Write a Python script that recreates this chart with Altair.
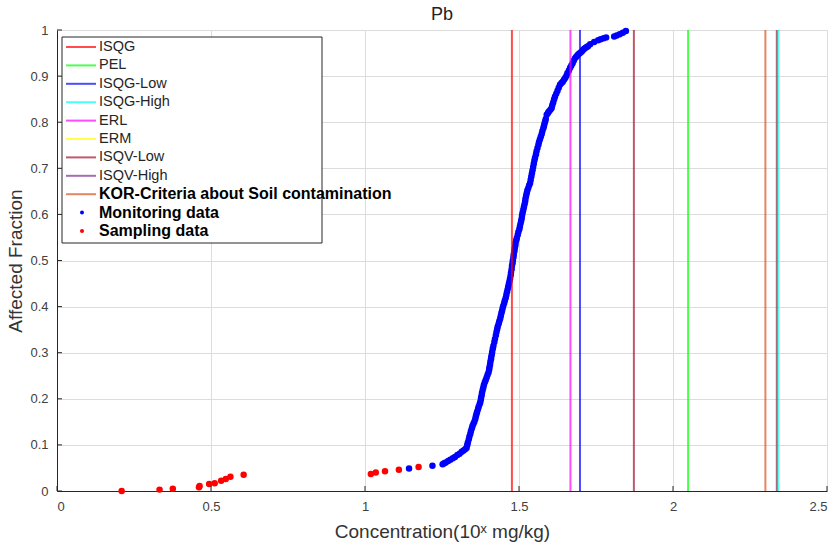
import altair as alt
import pandas as pd

# Axis ticks: concentration is log10(mg/kg), fraction is the cumulative share
x_ticks = [0, 0.5, 1, 1.5, 2, 2.5]
y_ticks = [0, 0.1, 0.2, 0.3, 0.4, 0.5, 0.6, 0.7, 0.8, 0.9, 1]

# Sediment / soil quality guideline levels for Pb (log10 mg/kg)
guide_names = ["ISQG", "PEL", "ISQG-Low", "ISQG-High", "ERL", "ERM",
               "ISQV-Low", "ISQV-High", "KOR-Criteria about Soil contamination"]
guide_values = [1.477, 2.049, 1.698, 2.342, 1.667, 2.338, 1.873, 2.337, 2.300]
guide_colors = ["#ff0000", "#00ff00", "#0000ff", "#00ffff", "#ff00ff",
                "#ffff00", "#a2142f", "#7e2f8e", "#d95319"]

# Sampling data (red)
sampling_conc = [0.210, 0.333, 0.376, 0.461, 0.463, 0.494, 0.512, 0.533, 0.548,
                 0.563, 0.606, 1.019, 1.035, 1.065, 1.110, 1.174]
sampling_frac = [0.000, 0.003, 0.005, 0.008, 0.011, 0.015, 0.017, 0.022, 0.026,
                 0.031, 0.035, 0.037, 0.040, 0.043, 0.046, 0.052]

# Monitoring data (blue)
monitoring_conc = [
    1.143, 1.219, 1.252, 1.257, 1.262, 1.270, 1.277, 1.285, 1.292, 1.300,
    1.307, 1.314, 1.320, 1.326, 1.330, 1.332, 1.334, 1.337, 1.339, 1.342,
    1.344, 1.347, 1.349, 1.352, 1.355, 1.358, 1.360, 1.362, 1.364, 1.367,
    1.369, 1.372, 1.374, 1.376, 1.377, 1.379, 1.380, 1.382, 1.384, 1.386,
    1.389, 1.392, 1.395, 1.398, 1.401, 1.403, 1.404, 1.406, 1.407, 1.409,
    1.410, 1.412, 1.413, 1.415, 1.417, 1.420, 1.422, 1.425, 1.427, 1.429,
    1.431, 1.434, 1.436, 1.439, 1.441, 1.443, 1.445, 1.447, 1.449, 1.452,
    1.454, 1.457, 1.459, 1.461, 1.463, 1.465, 1.467, 1.469, 1.471, 1.473,
    1.474, 1.476, 1.477, 1.479, 1.480, 1.482, 1.483, 1.485, 1.486, 1.488,
    1.489, 1.491, 1.493, 1.496, 1.498, 1.501, 1.503, 1.505, 1.507, 1.509,
    1.510, 1.512, 1.514, 1.516, 1.518, 1.520, 1.521, 1.523, 1.525, 1.527,
    1.530, 1.533, 1.536, 1.538, 1.540, 1.542, 1.544, 1.546, 1.548, 1.550,
    1.552, 1.555, 1.557, 1.560, 1.563, 1.565, 1.568, 1.571, 1.574, 1.576,
    1.579, 1.581, 1.583, 1.585, 1.587, 1.590, 1.594, 1.597, 1.602, 1.606,
    1.608, 1.611, 1.614, 1.617, 1.621, 1.625, 1.629, 1.633, 1.638, 1.642,
    1.646, 1.650, 1.654, 1.657, 1.662, 1.666, 1.670, 1.674, 1.678, 1.682,
    1.686, 1.690, 1.694, 1.698, 1.703, 1.707, 1.711, 1.715, 1.720, 1.724,
    1.731, 1.744, 1.757, 1.765, 1.775, 1.783, 1.809, 1.817, 1.827, 1.837,
    1.847,
]
monitoring_frac = [
    0.049, 0.055, 0.058, 0.060, 0.062, 0.065, 0.068, 0.071, 0.074, 0.078,
    0.081, 0.085, 0.088, 0.091, 0.094, 0.100, 0.105, 0.112, 0.118, 0.124,
    0.130, 0.136, 0.141, 0.146, 0.150, 0.156, 0.162, 0.167, 0.172, 0.178,
    0.183, 0.188, 0.192, 0.198, 0.203, 0.208, 0.213, 0.219, 0.224, 0.230,
    0.236, 0.241, 0.246, 0.252, 0.257, 0.263, 0.268, 0.274, 0.280, 0.286,
    0.291, 0.297, 0.302, 0.309, 0.315, 0.323, 0.330, 0.338, 0.345, 0.351,
    0.357, 0.363, 0.368, 0.374, 0.380, 0.386, 0.391, 0.397, 0.402, 0.408,
    0.413, 0.419, 0.425, 0.431, 0.437, 0.443, 0.449, 0.455, 0.461, 0.468,
    0.474, 0.481, 0.488, 0.494, 0.500, 0.507, 0.513, 0.520, 0.526, 0.532,
    0.538, 0.544, 0.549, 0.556, 0.562, 0.568, 0.574, 0.580, 0.586, 0.592,
    0.598, 0.604, 0.610, 0.616, 0.622, 0.628, 0.634, 0.640, 0.646, 0.652,
    0.657, 0.663, 0.668, 0.675, 0.682, 0.689, 0.696, 0.703, 0.710, 0.717,
    0.723, 0.730, 0.737, 0.744, 0.751, 0.757, 0.763, 0.769, 0.775, 0.781,
    0.787, 0.792, 0.797, 0.802, 0.807, 0.816, 0.820, 0.823, 0.827, 0.831,
    0.837, 0.843, 0.850, 0.856, 0.862, 0.868, 0.875, 0.881, 0.885, 0.888,
    0.892, 0.896, 0.901, 0.906, 0.912, 0.918, 0.923, 0.928, 0.934, 0.939,
    0.942, 0.945, 0.948, 0.950, 0.953, 0.956, 0.959, 0.961, 0.963, 0.965,
    0.969, 0.974, 0.978, 0.980, 0.982, 0.984, 0.986, 0.988, 0.991, 0.994,
    0.998,
]

point_labels = ["Monitoring data", "Sampling data"]
point_colors = ["#0000ff", "#ff0000"]

W, H = 770, 461
AXIS_COLOR = "#262626"
BASE_FONT = "Liberation Sans"

x_scale = alt.Scale(domain=[0, 2.5], nice=False, zero=False)
y_scale = alt.Scale(domain=[0, 1], nice=False, zero=False)

points = pd.concat([
    pd.DataFrame({"conc": monitoring_conc, "frac": monitoring_frac,
                  "color": point_colors[0]}),
    pd.DataFrame({"conc": sampling_conc, "frac": sampling_frac,
                  "color": point_colors[1]}),
], ignore_index=True)

guides = pd.DataFrame({"name": guide_names, "value": guide_values,
                       "color": guide_colors})

x_axis = alt.Axis(values=x_ticks, format="~g", title="Concentration(10ˣ mg/kg)",
                  grid=True, ticks=False, labelPadding=9, titlePadding=9)
y_axis = alt.Axis(values=y_ticks, format="~g", title="Affected Fraction",
                  grid=True, ticks=False, labelPadding=9, titlePadding=4)

# Empty base layer carrying axes and grid
frame = alt.Chart(pd.DataFrame({"conc": [0.0], "frac": [0.0]})).mark_point(
    opacity=0).encode(
    x=alt.X("conc:Q", scale=x_scale, axis=x_axis),
    y=alt.Y("frac:Q", scale=y_scale, axis=y_axis),
)

dots = alt.Chart(points).mark_circle(size=42, opacity=1).encode(
    x=alt.X("conc:Q", scale=x_scale),
    y=alt.Y("frac:Q", scale=y_scale),
    color=alt.Color("color:N", scale=None),
)

guide_lines = alt.Chart(guides).mark_rule(strokeWidth=2, opacity=0.7).encode(
    x=alt.X("value:Q", scale=x_scale),
    color=alt.Color("color:N", scale=None),
)

# Inward tick marks on the left and bottom axes
y_tick_marks = alt.Chart(pd.DataFrame({"frac": y_ticks})).mark_rule(
    color=AXIS_COLOR, strokeWidth=1).encode(
    y=alt.Y("frac:Q", scale=y_scale),
    x=alt.value(0), x2=alt.value(5),
)
x_tick_marks = alt.Chart(pd.DataFrame({"conc": x_ticks})).mark_rule(
    color=AXIS_COLOR, strokeWidth=1).encode(
    x=alt.X("conc:Q", scale=x_scale),
    y=alt.value(H), y2=alt.value(H - 5),
)

main = alt.layer(frame, dots, guide_lines, y_tick_marks, x_tick_marks)

# Legend box with line samples, dot samples and labels
legend_labels = guide_names + point_labels
legend_colors = guide_colors + point_colors
legend_kind = ["line"] * len(guide_names) + ["dot"] * len(point_labels)
legend_bold = [False] * 8 + [True] * 3
legend_df = pd.DataFrame({"row": list(range(len(legend_labels))),
                          "label": legend_labels, "color": legend_colors,
                          "kind": legend_kind, "bold": legend_bold})
row_scale = alt.Scale(domain=[0, 10], range=[17, 201])

legend_box = alt.Chart(pd.DataFrame({"row": [0]})).mark_rect(
    fill="white", stroke=AXIS_COLOR, strokeWidth=1).encode(
    x=alt.value(5), x2=alt.value(265), y=alt.value(7), y2=alt.value(213),
)
legend_base = alt.Chart(legend_df)
legend_lines = legend_base.transform_filter("datum.kind == 'line'").mark_rule(
    strokeWidth=2, opacity=0.7).encode(
    y=alt.Y("row:Q", scale=row_scale, axis=None),
    x=alt.value(9), x2=alt.value(39),
    color=alt.Color("color:N", scale=None),
)
legend_dots = legend_base.transform_filter("datum.kind == 'dot'").mark_circle(
    size=16, opacity=1).encode(
    y=alt.Y("row:Q", scale=row_scale, axis=None),
    x=alt.value(25),
    color=alt.Color("color:N", scale=None),
)
legend_text = legend_base.transform_filter("!datum.bold").mark_text(
    align="left", baseline="middle", font=BASE_FONT, fontSize=14.5,
    color=AXIS_COLOR).encode(
    y=alt.Y("row:Q", scale=row_scale, axis=None),
    x=alt.value(42),
    text="label:N",
)
legend_text_bold = legend_base.transform_filter("datum.bold").mark_text(
    align="left", baseline="middle", font=BASE_FONT, fontSize=16,
    fontWeight="bold", color="#000000").encode(
    y=alt.Y("row:Q", scale=row_scale, axis=None),
    x=alt.value(42),
    text="label:N",
)
legend = alt.layer(legend_box, legend_lines, legend_dots, legend_text,
                   legend_text_bold)

chart = alt.layer(main, legend).resolve_scale(y="independent").properties(
    width=W, height=H,
    title=alt.TitleParams("Pb", anchor="middle", frame="group", font=BASE_FONT,
                          fontSize=18, fontWeight="normal", color="#222222",
                          offset=7, dy=7),
    autosize=alt.AutoSizeParams(type="none"),
    padding={"left": 57, "top": 30, "right": 13, "bottom": 57},
).configure_view(stroke=None).configure_axis(
    domainColor=AXIS_COLOR, domainWidth=1, gridColor="#dcdcdc", gridWidth=1,
    labelFont=BASE_FONT, labelFontSize=13, labelColor="#404040",
    titleFont=BASE_FONT, titleFontSize=19, titleFontWeight="normal",
    titleColor="#333333",
)

chart.save("out.html", embed_options={"renderer": "svg", "actions": False})
